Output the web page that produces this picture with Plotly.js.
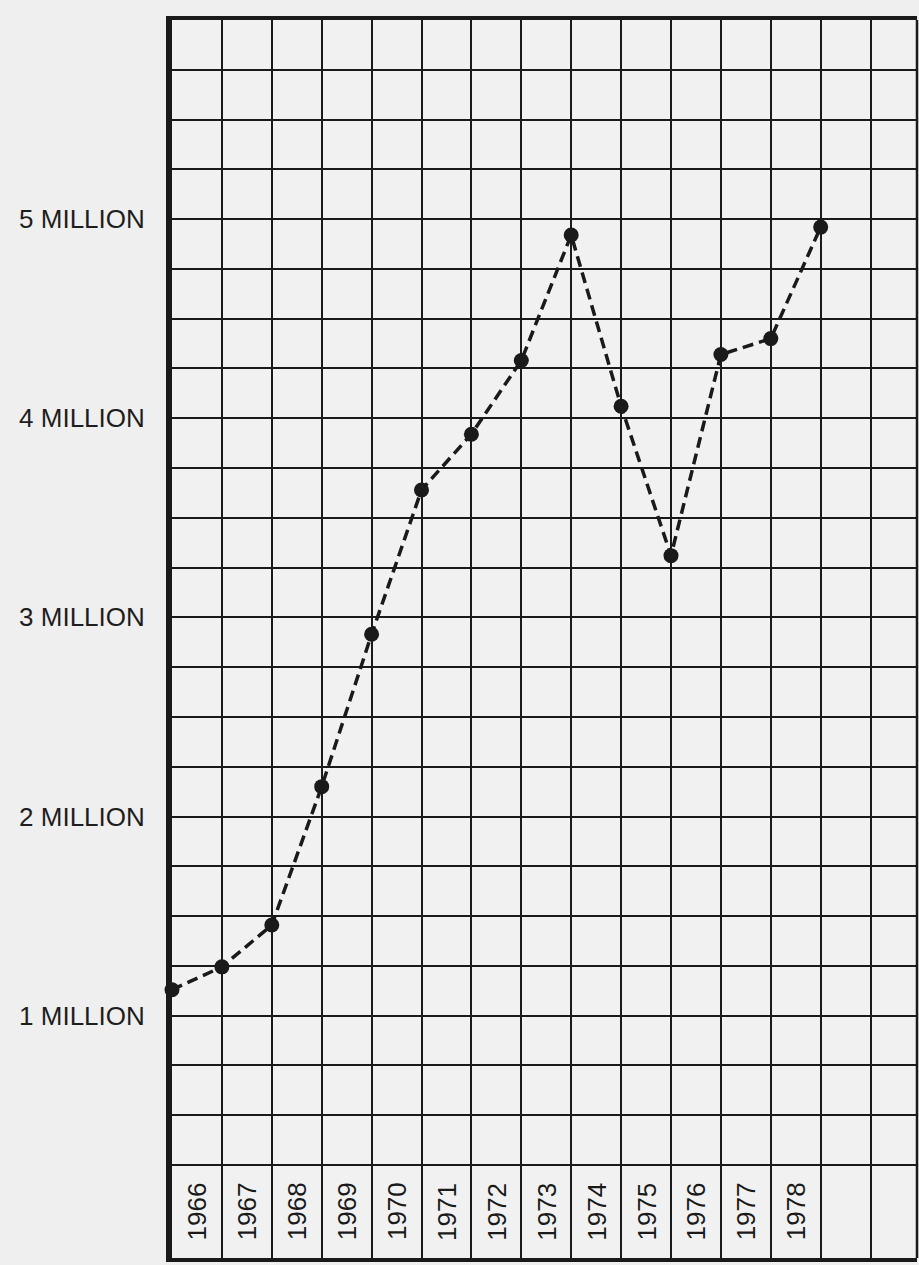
<!DOCTYPE html>
<html>
<head>
<meta charset="utf-8">
<script src="https://cdn.plot.ly/plotly-3.0.1.min.js"></script>
<style>html,body{margin:0;padding:0;background:#efefef;}#chart{width:919px;height:1265px;}</style>
</head>
<body>
<div id="chart"></div>
<script>
// Year labels written in the label row (one per column)
const yearLabels = [1966, 1967, 1968, 1969, 1970, 1971, 1972, 1973, 1974, 1975, 1976, 1977, 1978];
// Plotted points sit on the column lines (start of each year, 1966 .. 1979)
const pointYears = [1966, 1967, 1968, 1969, 1970, 1971, 1972, 1973, 1974, 1975, 1976, 1977, 1978, 1979];
// Values in millions
const values = [1.13, 1.245, 1.455, 2.15, 2.915, 3.64, 3.92, 4.29, 4.92, 4.06, 3.31, 4.32, 4.40, 4.96];
// Y axis labels
const yLabelValues = [1, 2, 3, 4, 5];
const yLabelText = ['1 MILLION', '2 MILLION', '3 MILLION', '4 MILLION', '5 MILLION'];

const gridStep = 0.25, gridTop = 6.0, gridBottom = 0.25;
const yMin = -0.217;
const xMin = 1966, xMax = 1980.93;

const tickvals = [], ticktext = [];
for (let v = gridBottom; v <= gridTop + 1e-9; v += gridStep) {
  const r = Math.round(v * 100) / 100;
  tickvals.push(r);
  const idx = yLabelValues.indexOf(r);
  ticktext.push(idx >= 0 ? yLabelText[idx] : '');
}

const ink = '#1a1a1a';

const trace = {
  x: pointYears,
  y: values,
  type: 'scatter',
  mode: 'lines+markers',
  line: {color: ink, width: 3.5, dash: '11px,6px'},
  marker: {color: ink, size: 15},
  cliponaxis: false,
  hoverinfo: 'skip'
};

const annotations = yearLabels.map(yr => ({
  x: yr + 0.5,
  y: (gridBottom + yMin) / 2,
  xref: 'x', yref: 'y',
  text: String(yr),
  showarrow: false,
  textangle: -90,
  font: {family: 'Liberation Sans, Arial, sans-serif', size: 26, color: ink}
}));

const layout = {
  width: 919, height: 1265,
  margin: {l: 172, r: 2, t: 20, b: 7},
  paper_bgcolor: '#efefef',
  plot_bgcolor: '#f1f1f1',
  showlegend: false,
  xaxis: {
    range: [xMin, xMax],
    tick0: xMin, dtick: 1,
    showgrid: true, gridcolor: ink, gridwidth: 2,
    showticklabels: false, ticks: '',
    zeroline: false,
    showline: true, linecolor: ink, linewidth: 4, mirror: true
  },
  yaxis: {
    range: [yMin, gridTop],
    tickmode: 'array', tickvals: tickvals, ticktext: ticktext,
    showgrid: true, gridcolor: ink, gridwidth: 2,
    ticks: 'outside', ticklen: 16, tickcolor: 'rgba(0,0,0,0)',
    tickfont: {family: 'Liberation Sans, Arial, sans-serif', size: 26, color: '#1e1e1e'},
    zeroline: false,
    showline: true, linecolor: ink, linewidth: 6, mirror: false
  },
  shapes: [
    {type: 'line', xref: 'paper', yref: 'paper', x0: 1, x1: 1, y0: 0, y1: 1,
     line: {color: ink, width: 2.5}}
  ],
  annotations: annotations
};

Plotly.newPlot('chart', [trace], layout, {staticPlot: true, displayModeBar: false});
</script>
</body>
</html>
